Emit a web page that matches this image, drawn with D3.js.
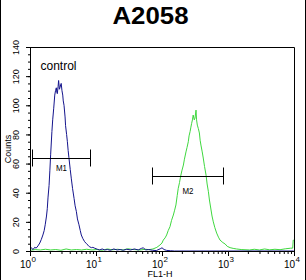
<!DOCTYPE html>
<html>
<head>
<meta charset="utf-8">
<script src="https://cdn.jsdelivr.net/npm/d3@7"></script>
<style>
  body { margin: 0; background: #fff; }
  svg { display: block; font-family: "Liberation Sans", Arial, sans-serif; }
  .axis path, .axis line { stroke: #000; }
</style>
</head>
<body>
<svg class="chart"></svg>
<script>
// DATA (FL1-H channel 0..1023, 256 channels per decade)
const title = 'A2058';
const xLabel = 'FL1-H';
const yLabel = 'Counts';
const yTicks = [0, 20, 40, 60, 80, 100, 120, 140];
const xDecades = [0, 1, 2, 3, 4];

const controlChannels = [0, 12, 18, 24, 31, 38, 44, 50, 55, 59, 64, 67, 70, 74, 77, 80, 85, 88, 92, 96,
  99, 102, 104, 106, 109, 111, 114, 116, 119, 121, 124, 127, 129, 132, 136, 138, 142, 145, 148, 151,
  156, 160, 165, 171, 175, 180, 184, 190, 195, 199, 205, 212, 219, 225, 230, 238, 244, 251, 261, 270,
  280, 290, 300, 312, 325, 338, 350, 362, 375, 390, 405, 420, 432, 440, 448, 460, 475, 490, 505, 512,
  520, 530, 545, 560, 1023];
const controlCounts = [3, 1, 2.5, 2, 3.5, 5.5, 8, 11, 14, 18, 24, 29, 37, 45, 55, 66, 82, 90, 98, 107,
  110, 112, 109, 108, 113, 117, 111, 112, 114, 115, 110, 107, 103, 100, 92, 86, 80, 75, 69, 64,
  56, 50, 43, 36, 31, 27, 22, 18, 14, 11, 8.5, 6.4, 5, 4, 3, 2.3, 2.5, 1.9, 1.2, 0.7,
  1.4, 0.7, 1, 0.5, 1.4, 0.7, 1, 0.5, 1.2, 0.7, 1.4, 0.7, 1.8, 2.2, 0.7, 1, 0.5, 0.3, 1.5, 2.2,
  1, 0.4, 0.2, 0, 0];

const sampleChannels = [0, 20, 40, 60, 80, 100, 120, 140, 160, 180, 200, 220, 240, 260, 280, 300, 320, 340,
  360, 380, 400, 427, 448, 461, 477, 492, 504, 512, 517, 524, 530, 536, 543, 549, 556, 561, 566, 571,
  575, 580, 584, 589, 595, 599, 605, 609, 614, 617, 621, 624, 627, 630, 633, 637, 640, 642, 644, 646,
  649, 653, 657, 660, 663, 668, 672, 677, 683, 687, 692, 696, 701, 706, 711, 717, 724, 731, 737, 748,
  757, 765, 776, 788, 801, 819, 852, 870, 890, 910, 930, 950, 970, 990, 1010, 1019, 1021, 1023];
const sampleCounts = [0.5, 1, 0.7, 1.2, 0.7, 1, 0.5, 1.4, 0.7, 1, 0.7, 1.2, 0.7, 1, 0.5, 1.4, 0.8, 1.2,
  0.7, 1.5, 1, 0.7, 1.2, 0.9, 1.4, 2.5, 4.1, 5.5, 7.5, 9, 11, 14, 16.7, 21, 24.7, 28, 31.6, 38,
  43, 47, 51, 55, 59, 63, 68, 71, 75, 79, 82, 85, 87.6, 90, 93.3, 90, 91.2, 94, 96.7, 90,
  86.4, 84, 81, 76, 72.7, 68, 63.8, 58, 52, 46, 40.7, 35, 29.5, 24, 20, 16, 12.3, 9.5, 7.5, 5.8,
  4.8, 3.2, 2.3, 1.8, 1.4, 1, 0.7, 1.2, 0.7, 1.4, 0.8, 1.2, 0.9, 1.5, 1.9, 2, 7.5, 7.5];

// markers: [label, from, to, count]
const markerNames = ['M1', 'M2'];
const markerFrom = [1.07, 71.3];
const markerTo = [8.03, 849];
const markerCounts = [64, 51.5];

//INITIALIZING CANVAS
const size = {w: 306, h: 280};
const plot = {left: 30, right: 294, top: 47, bottom: 251};

const svg = d3.select('svg.chart')
    .attr('width', size.w)
    .attr('height', size.h);

svg.append('rect').attr('width', size.w).attr('height', size.h).attr('fill', '#fff');
// image edge lines
svg.append('line').attr('x1', 0.5).attr('x2', 0.5).attr('y1', 0).attr('y2', size.h).attr('stroke', '#000');
svg.append('line').attr('x1', size.w - 0.5).attr('x2', size.w - 0.5).attr('y1', 0).attr('y2', size.h).attr('stroke', '#000');

const chToValue = ch => Math.pow(10, ch / 256);

const x = d3.scaleLog().domain([1, 10000]).range([plot.left, plot.right]);
const y = d3.scaleLinear().domain([0, 140]).range([plot.bottom, plot.top]);

//TITLE
svg.append('text')
    .attr('x', 150.5)
    .attr('y', 24)
    .attr('text-anchor', 'middle')
    .attr('font-size', 23)
    .attr('font-weight', 'bold')
    .attr('textLength', 76)
    .attr('lengthAdjust', 'spacingAndGlyphs')
    .text(title);

//FRAME (top and right)
svg.append('path')
    .attr('d', `M${plot.left},${plot.top + 0.5}H${plot.right + 0.5}V${plot.bottom}`)
    .attr('fill', 'none')
    .attr('stroke', '#000');

//HISTOGRAMS
const line = d3.line()
    .x(d => x(chToValue(d[0])))
    .y(d => y(d[1]));

svg.append('path')
    .datum(d3.zip(sampleChannels, sampleCounts))
    .attr('fill', 'none')
    .attr('stroke', '#3fd83f')
    .attr('stroke-width', 1)
    .attr('d', line);

svg.append('path')
    .datum(d3.zip(controlChannels, controlCounts))
    .attr('fill', 'none')
    .attr('stroke', '#14148c')
    .attr('stroke-width', 1)
    .attr('d', line);

//AXES
let minorX = [];
for (let d = 0; d < 4; d++) for (let k = 2; k < 10; k++) minorX.push(k * Math.pow(10, d));

svg.append('g')
    .attr('class', 'axis')
    .attr('transform', `translate(0,${plot.bottom})`)
    .call(d3.axisBottom(x).tickValues(minorX).tickSize(3).tickSizeOuter(0).tickFormat(''));

let xAxis = svg.append('g')
    .attr('class', 'axis')
    .attr('transform', `translate(0,${plot.bottom})`)
    .call(d3.axisBottom(x).tickValues(xDecades.map(d => Math.pow(10, d))).tickSize(5).tickSizeOuter(0).tickFormat(''));

xAxis.selectAll('.tick').each(function(d, i){
    let g = d3.select(this);
    g.append('text')
        .attr('x', 0.5).attr('y', 17)
        .attr('text-anchor', 'end')
        .attr('fill', '#000')
        .attr('font-size', 10)
        .text('10');
    g.append('text')
        .attr('x', 1).attr('y', 11)
        .attr('text-anchor', 'start')
        .attr('fill', '#000')
        .attr('font-size', 8)
        .text(xDecades[i]);
});

let minorY = d3.range(0, 141, 5);
svg.append('g')
    .attr('class', 'axis')
    .attr('transform', `translate(${plot.left},0)`)
    .call(d3.axisLeft(y).tickValues(minorY).tickSize(2).tickSizeOuter(0).tickFormat(''));

let yAxis = svg.append('g')
    .attr('class', 'axis')
    .attr('transform', `translate(${plot.left},0)`)
    .call(d3.axisLeft(y).tickValues(yTicks).tickSize(4).tickSizeOuter(0).tickFormat(''));

yAxis.selectAll('.tick').append('text')
    .attr('transform', 'translate(-11.5,0) rotate(-90)')
    .attr('text-anchor', 'middle')
    .attr('fill', '#000')
    .attr('font-size', 9)
    .text(d => d);

svg.append('text')
    .attr('transform', `translate(10.5,${(plot.top + plot.bottom) / 2}) rotate(-90)`)
    .attr('text-anchor', 'middle')
    .attr('font-size', 9)
    .text(yLabel);

svg.append('text')
    .attr('x', (plot.left + plot.right) / 2 - 2)
    .attr('y', 277)
    .attr('text-anchor', 'middle')
    .attr('font-size', 9)
    .text(xLabel);

//CONTROL LABEL
svg.append('text')
    .attr('x', 40.5)
    .attr('y', 70)
    .attr('font-size', 12)
    .text('control');

//MARKERS
const labelDrop = [12, 17.5];
markerNames.forEach((name, i) => {
    let g = svg.append('g').attr('stroke', '#000').attr('fill', 'none');
    let x0 = Math.round(x(markerFrom[i])) + 0.5;
    let x1 = Math.round(x(markerTo[i])) + 0.5;
    let yy = Math.round(y(markerCounts[i])) + 0.5;
    g.append('path')
        .attr('d', `M${x0},${yy - 9}V${yy + 8}M${x0},${yy}H${x1}M${x1},${yy - 9}V${yy + 8}`);
    svg.append('text')
        .attr('x', (x0 + x1) / 2)
        .attr('y', yy + labelDrop[i])
        .attr('text-anchor', 'middle')
        .attr('font-size', 9.5)
        .attr('textLength', 11)
        .attr('lengthAdjust', 'spacingAndGlyphs')
        .text(name);
});
</script>
</body>
</html>
